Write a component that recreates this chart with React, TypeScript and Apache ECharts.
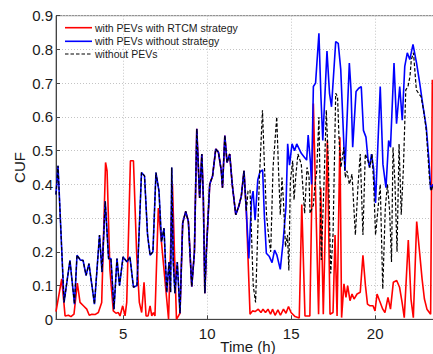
import React, { useEffect, useRef } from 'react';
import * as echarts from 'echarts';

// [time (h), CUF] vertices
// Part shared by "with PEVs without strategy" and "without PEVs" (t < 12.35 h)
const sharedTrace: [number, number][] = [
  [1.00, 0.37], [1.12, 0.455], [1.48, 0.05], [1.83, 0.175], [2.10, 0.045], [2.25, 0.19],
  [2.46, 0.175], [2.61, 0.175], [2.79, 0.13], [2.96, 0.165], [3.29, 0.045], [3.59, 0.25],
  [3.74, 0.14], [3.93, 0.35], [4.13, 0.18], [4.27, 0.18], [4.45, 0.03], [4.63, 0.18],
  [4.78, 0.10], [4.99, 0.185], [5.23, 0.17], [5.40, 0.185], [5.61, 0.095], [5.82, 0.10],
  [6.09, 0.435], [6.27, 0.425], [6.45, 0.25], [6.60, 0.19], [6.77, 0.20], [6.95, 0.435],
  [7.13, 0.38], [7.28, 0.23], [7.43, 0.27], [7.59, 0.08], [7.73, 0.17], [7.82, 0.08],
  [7.89, 0.45], [7.98, 0.17], [8.08, 0.077], [8.22, 0.17], [8.38, 0.018], [8.54, 0.285],
  [8.72, 0.32], [8.88, 0.29], [9.08, 0.097], [9.24, 0.20], [9.38, 0.565], [9.55, 0.36],
  [9.68, 0.49], [9.77, 0.36], [9.86, 0.077], [9.95, 0.20], [10.15, 0.40], [10.32, 0.425],
  [10.51, 0.505], [10.67, 0.495], [10.84, 0.44], [10.91, 0.39], [11.05, 0.545], [11.18, 0.465],
  [11.34, 0.49], [11.49, 0.40], [11.70, 0.31], [11.88, 0.335], [12.03, 0.365], [12.19, 0.44],
  [12.33, 0.32],
];

// "with PEVs with RTCM strategy" before it merges with the shared trace
const rtcmEarly: [number, number][] = [
  [1.00, 0.023], [1.34, 0.12], [1.54, 0.01], [1.74, 0.012], [1.89, 0.008], [2.07, 0.015],
  [2.27, 0.107], [2.43, 0.05], [2.63, 0.04], [2.83, 0.03], [2.98, 0.012], [3.14, 0.015],
  [3.32, 0.014], [3.52, 0.02], [3.72, 0.05], [3.95, 0.465], [4.04, 0.44], [4.21, 0.146],
  [4.41, 0.025], [4.57, 0.018], [4.71, 0.02], [4.81, 0.01], [4.97, 0.04], [5.11, 0.01],
  [5.21, 0.05], [5.43, 0.47], [5.61, 0.47], [5.80, 0.196], [5.96, 0.05], [6.10, 0.02],
  [6.24, 0.11], [6.36, 0.01], [6.48, 0.01], [6.60, 0.04], [6.70, 0.01], [6.80, 0.02],
  [6.89, 0.01], [7.09, 0.33], [7.70, 0.0], [7.93, 0.40], [8.17, 0.0],
];
const rtcmMergeFrom = 8.38;

// "with PEVs with RTCM strategy" after 12.33 h
const rtcmLate: [number, number][] = [
  [12.55, 0.015], [12.70, 0.025], [12.85, 0.023], [13.04, 0.03], [13.20, 0.02], [13.32, 0.03],
  [13.47, 0.02], [13.62, 0.03], [13.77, 0.015], [13.89, 0.03], [14.04, 0.012], [14.21, 0.028],
  [14.36, 0.012], [14.54, 0.03], [14.69, 0.018], [14.84, 0.038], [14.99, 0.02], [15.23, 0.008],
  [15.48, 0.004], [15.63, 0.34], [15.82, 0.01], [16.11, 0.01], [16.32, 0.64], [16.63, 0.015],
  [16.76, 0.39], [16.91, 0.015], [17.15, 0.53], [17.31, 0.015], [17.49, 0.02], [17.61, 0.25],
  [17.73, 0.01], [17.90, 0.54], [18.00, 0.005], [18.14, 0.105], [18.26, 0.065], [18.36, 0.10],
  [18.50, 0.055], [18.62, 0.075], [18.74, 0.06], [18.92, 0.075], [19.11, 0.08], [19.27, 0.19],
  [19.42, 0.10], [19.54, 0.045], [19.69, 0.04], [19.87, 0.04], [19.99, 0.025], [20.11, 0.075],
  [20.26, 0.055], [20.45, 0.03], [20.58, 0.02], [20.76, 0.065], [20.91, 0.03], [21.08, 0.11],
  [21.28, 0.115], [21.45, 0.095], [21.60, 0.05], [21.73, 0.005], [21.97, 0.235], [22.13, 0.06],
  [22.27, 0.005], [22.47, 0.29], [22.64, 0.20], [22.79, 0.12], [22.93, 0.06], [23.08, 0.03],
  [23.30, 0.015], [23.40, 0.71],
];

// "with PEVs without strategy" after 12.33 h
const noStrategyLate: [number, number][] = [
  [12.48, 0.18], [12.64, 0.355], [12.73, 0.38], [12.85, 0.294], [13.01, 0.413], [13.14, 0.437],
  [13.30, 0.443], [13.40, 0.31], [13.52, 0.196], [13.70, 0.186], [13.86, 0.168], [14.01, 0.205],
  [14.15, 0.19], [14.35, 0.148], [14.51, 0.225], [14.69, 0.334], [14.79, 0.52], [14.90, 0.457],
  [15.05, 0.52], [15.20, 0.50], [15.33, 0.52], [15.60, 0.492], [15.76, 0.482], [15.92, 0.472],
  [16.01, 0.546], [16.15, 0.462], [16.21, 0.40], [16.32, 0.69], [16.45, 0.70], [16.65, 0.848],
  [16.77, 0.66], [16.88, 0.53], [17.13, 0.795], [17.28, 0.67], [17.40, 0.63], [17.65, 0.823],
  [17.80, 0.818], [17.95, 0.74], [18.20, 0.44], [18.46, 0.76], [18.56, 0.68], [18.66, 0.51],
  [18.86, 0.675], [19.02, 0.685], [19.17, 0.69], [19.30, 0.56], [19.45, 0.54], [19.57, 0.475],
  [19.66, 0.45], [19.78, 0.49], [19.90, 0.45], [20.02, 0.345], [20.30, 0.69], [20.46, 0.46],
  [20.64, 0.39], [20.80, 0.53], [20.91, 0.51], [21.12, 0.76], [21.27, 0.58], [21.46, 0.69],
  [21.61, 0.59], [21.76, 0.75], [21.91, 0.79], [22.06, 0.77], [22.25, 0.815], [22.46, 0.76],
  [22.65, 0.70], [22.85, 0.63], [23.04, 0.57], [23.20, 0.47], [23.30, 0.385], [23.44, 0.40],
];

// "without PEVs" after 12.33 h
const withoutPEVsLate: [number, number][] = [
  [12.43, 0.38], [12.55, 0.383], [12.74, 0.10], [12.88, 0.05], [13.10, 0.41], [13.29, 0.62],
  [13.41, 0.45], [13.53, 0.31], [13.65, 0.25], [13.78, 0.20], [13.92, 0.45], [14.14, 0.60],
  [14.24, 0.45], [14.35, 0.31], [14.45, 0.42], [14.54, 0.35], [14.66, 0.215], [14.78, 0.25],
  [14.86, 0.145], [14.95, 0.41], [15.09, 0.47], [15.17, 0.354], [15.27, 0.423], [15.40, 0.49],
  [15.60, 0.46], [15.72, 0.373], [15.80, 0.314], [15.94, 0.45], [16.06, 0.423], [16.12, 0.314],
  [16.32, 0.339], [16.40, 0.39], [16.52, 0.44], [16.65, 0.60], [16.79, 0.176], [16.95, 0.40],
  [17.09, 0.62], [17.22, 0.45], [17.35, 0.136], [17.49, 0.25], [17.65, 0.67], [17.76, 0.66],
  [17.85, 0.53], [17.96, 0.45], [18.13, 0.51], [18.22, 0.42], [18.32, 0.44], [18.46, 0.40],
  [18.62, 0.43], [18.82, 0.25], [18.98, 0.40], [19.11, 0.49], [19.27, 0.25], [19.41, 0.49],
  [19.57, 0.47], [19.69, 0.45], [19.81, 0.49], [19.91, 0.40], [20.02, 0.25], [20.17, 0.33],
  [20.30, 0.40], [20.45, 0.09], [20.60, 0.33], [20.73, 0.40], [20.86, 0.32], [20.97, 0.17],
  [21.06, 0.51], [21.18, 0.40], [21.30, 0.20], [21.42, 0.52], [21.55, 0.31], [21.68, 0.45],
  [21.82, 0.68], [21.95, 0.69], [22.07, 0.72], [22.15, 0.77], [22.28, 0.79], [22.45, 0.68],
  [22.58, 0.67], [22.73, 0.66], [22.88, 0.62], [23.04, 0.56], [23.24, 0.41], [23.34, 0.38],
  [23.44, 0.40],
];

const seriesNames = ['with PEVs with RTCM strategy', 'with PEVs without strategy', 'without PEVs'];
const seriesColors = ['#ff0000', '#0000ff', '#000000'];
const xRange = [1, 24];
const yRange = [0, 0.9];
const yStep = 0.1;
const xLabelEvery = 5;
const xTitle = 'Time (h)';
const yTitle = 'CUF';

const FONT = '"Liberation Sans", Arial, Helvetica, sans-serif';

export default function App() {
  const ref = useRef<HTMLDivElement>(null);

  useEffect(() => {
    if (!ref.current) return;
    const chart = echarts.init(ref.current, undefined, { renderer: 'svg' });

    const redData = [
      ...rtcmEarly,
      ...sharedTrace.filter((p) => p[0] >= rtcmMergeFrom),
      ...rtcmLate,
    ];
    const blueData = [...sharedTrace, ...noStrategyLate];
    const blackData = [...sharedTrace, ...withoutPEVsLate];

    const legendX = 65;
    const legendY = [27.7, 41.3, 54];
    const graphics: any[] = [];
    seriesNames.forEach((name, i) => {
      graphics.push({
        type: 'line',
        shape: { x1: legendX, y1: legendY[i], x2: legendX + 27, y2: legendY[i] },
        style: {
          stroke: seriesColors[i],
          lineWidth: i === 2 ? 1.2 : 1.6,
          lineDash: i === 2 ? [3.5, 2] : null,
        },
        silent: true,
      });
      graphics.push({
        type: 'text',
        x: legendX + 30,
        y: legendY[i],
        style: {
          text: name,
          fontSize: 10.5,
          fontFamily: FONT,
          fill: '#1a1a1a',
          verticalAlign: 'middle',
          textAlign: 'left',
        },
        silent: true,
      });
    });
    graphics.push({
      type: 'text',
      x: 248,
      y: 346.5,
      style: {
        text: xTitle,
        fontSize: 15,
        fontFamily: FONT,
        fill: '#1a1a1a',
        textAlign: 'center',
        verticalAlign: 'middle',
      },
      silent: true,
    });
    graphics.push({
      type: 'text',
      x: 19,
      y: 167.5,
      rotation: Math.PI / 2,
      style: {
        text: yTitle,
        fontSize: 15,
        fontFamily: FONT,
        fill: '#1a1a1a',
        textAlign: 'center',
        verticalAlign: 'middle',
      },
      silent: true,
    });

    chart.setOption({
      animation: false,
      backgroundColor: '#ffffff',
      grid: {
        left: 56,
        top: 15.7,
        right: -9.4,
        bottom: 34.7,
        containLabel: false,
        outerBoundsMode: 'none',
        show: true,
        borderColor: '#7a7a7a',
        borderWidth: 1,
      },
      xAxis: {
        type: 'value',
        min: xRange[0],
        max: xRange[1],
        splitNumber: 5,
        axisLine: { show: true, onZero: false, lineStyle: { color: '#444', width: 1 } },
        axisTick: { show: true, inside: true, length: 4, lineStyle: { color: '#444' } },
        axisLabel: {
          margin: 7,
          fontSize: 15,
          fontFamily: FONT,
          color: '#1a1a1a',
          showMaxLabel: false,
          formatter: (v: number) => (v % xLabelEvery === 0 ? String(v) : ''),
        },
        splitLine: { show: true, lineStyle: { color: '#c4c4c4', type: [1, 2], width: 1 } },
      },
      yAxis: {
        type: 'value',
        min: yRange[0],
        max: yRange[1],
        interval: yStep,
        axisLine: { show: true, lineStyle: { color: '#444', width: 1 } },
        axisTick: { show: true, inside: true, length: 4, lineStyle: { color: '#444' } },
        axisLabel: {
          margin: 3,
          fontSize: 15,
          fontFamily: FONT,
          color: '#1a1a1a',
          formatter: (v: number) => (Math.abs(v) < 1e-9 ? '0' : v.toFixed(1)),
        },
        splitLine: { show: true, lineStyle: { color: '#c4c4c4', type: [1, 2], width: 1 } },
      },
      series: [
        {
          name: seriesNames[0],
          type: 'line',
          data: redData,
          showSymbol: false,
          symbol: 'none',
          clip: true,
          lineStyle: { color: seriesColors[0], width: 1.6 },
          silent: true,
        },
        {
          name: seriesNames[1],
          type: 'line',
          data: blueData,
          showSymbol: false,
          symbol: 'none',
          clip: true,
          lineStyle: { color: seriesColors[1], width: 1.6 },
          silent: true,
        },
        {
          name: seriesNames[2],
          type: 'line',
          data: blackData,
          showSymbol: false,
          symbol: 'none',
          clip: true,
          lineStyle: { color: seriesColors[2], width: 1.2, type: [3.5, 2] },
          silent: true,
        },
      ],
      graphic: graphics,
    });

    return () => chart.dispose();
  }, []);

  return (
    <div
      ref={ref}
      style={{ position: 'absolute', left: 0, top: 0, width: 433, height: 354, background: '#fff' }}
    />
  );
}
